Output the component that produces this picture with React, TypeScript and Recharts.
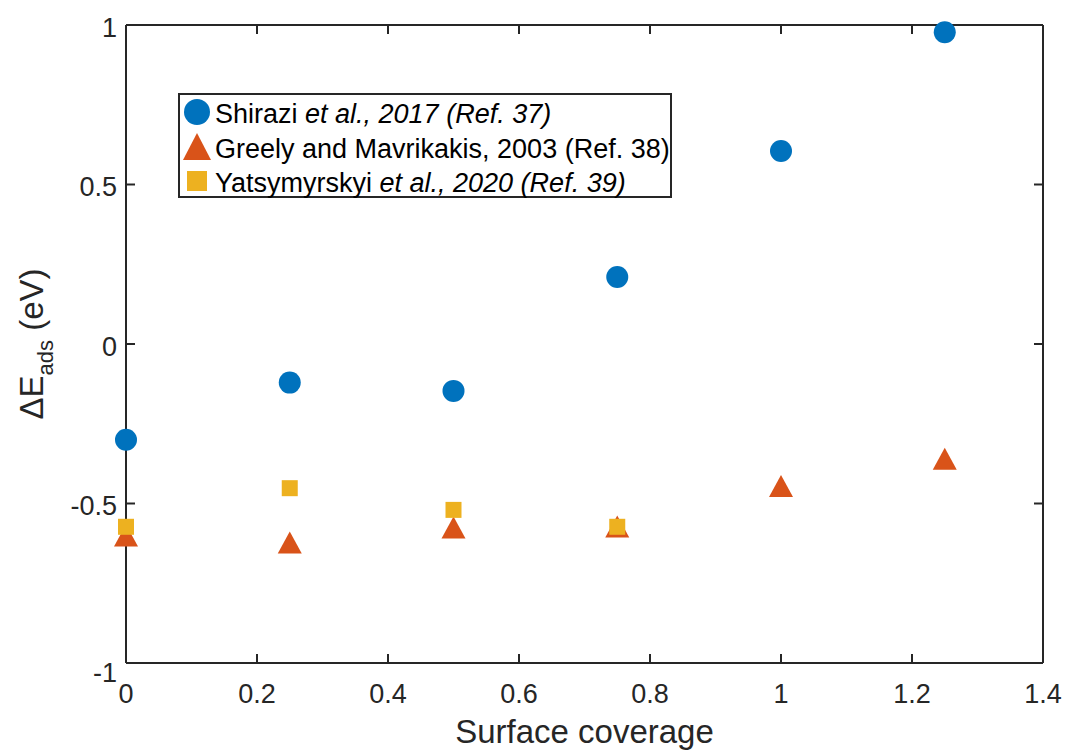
import React from 'react';
import { ScatterChart, Scatter, XAxis, YAxis, Legend } from 'recharts';

const FONT = '"Liberation Sans", Arial, Helvetica, sans-serif';
const AXIS = '#262626';
const BLUE = '#0072BD';
const ORANGE = '#D95319';
const YELLOW = '#EDB120';

// values
const shiraziX = [0, 0.25, 0.5, 0.75, 1.0, 1.25];
const shiraziY = [-0.3, -0.121, -0.147, 0.21, 0.605, 0.977];
const greelyX = [0, 0.25, 0.5, 0.75, 1.0, 1.25];
const greelyY = [-0.6, -0.622, -0.575, -0.572, -0.445, -0.36];
const yatsX = [0, 0.25, 0.5, 0.75];
const yatsY = [-0.573, -0.452, -0.52, -0.573];

const xTicks = [0, 0.2, 0.4, 0.6, 0.8, 1, 1.2, 1.4];
const yTicks = [-1, -0.5, 0, 0.5, 1];

const toPoints = (xs: number[], ys: number[]) => xs.map((x, i) => ({ x, y: ys[i] }));
const shirazi = toPoints(shiraziX, shiraziY);
const greely = toPoints(greelyX, greelyY);
const yats = toPoints(yatsX, yatsY);

const Circle = (p: any) => <circle cx={p.cx} cy={p.cy} r={11} fill={BLUE} />;
const Tri = (p: any) => {
  const w = 12;
  const h = 11;
  return <path d={`M${p.cx} ${p.cy - h}L${p.cx + w} ${p.cy + h}L${p.cx - w} ${p.cy + h}Z`} fill={ORANGE} />;
};
const Square = (p: any) => <rect x={p.cx - 8} y={p.cy - 8} width={16} height={16} fill={YELLOW} />;

const fmt = (v: number) => String(v);

// draws nothing: used for tick labels of the box axes and for the helper series
const Nothing = () => <g />;

const YTick = (props: any) => {
  const { x, y, payload } = props;
  const shift = payload.value === -1 ? 9 : 2;
  return (
    <text x={x} y={y + shift} dy="0.355em" textAnchor="end" fontSize={27} fill={AXIS} fontFamily={FONT}>
      {fmt(payload.value)}
    </text>
  );
};

const legendRows = [
  { mark: 'circle', parts: [['Shirazi ', false], ['et al., 2017 (Ref. 37)', true]] },
  { mark: 'tri', parts: [['Greely and Mavrikakis, 2003 (Ref. 38)', false]] },
  { mark: 'square', parts: [['Yatsymyrskyi ', false], ['et al., 2020 (Ref. 39)', true]] },
];

const renderLegend = () => (
  <svg width={494} height={105} style={{ display: 'block' }}>
    <rect x={1} y={1} width={492} height={103} fill="#fff" stroke={AXIS} strokeWidth={2} />
    {legendRows.map((row, i) => {
      const cy = 19 + i * 34.5;
      let mark;
      if (row.mark === 'circle') mark = <circle cx={19} cy={cy} r={13} fill={BLUE} />;
      else if (row.mark === 'tri')
        mark = <path d={`M19 ${cy - 13.5}L33 ${cy + 13.5}L5 ${cy + 13.5}Z`} fill={ORANGE} />;
      else mark = <rect x={9} y={cy - 10} width={20} height={20} fill={YELLOW} />;
      return (
        <g key={i}>
          {mark}
          <text x={37} y={30 + i * 34.5} fontSize={27} fill="#000" fontFamily={FONT}>
            {row.parts.map((pt, j) => (
              <tspan key={j} fontStyle={pt[1] ? 'italic' : 'normal'}>
                {pt[0] as string}
              </tspan>
            ))}
          </text>
        </g>
      );
    })}
  </svg>
);

const YLabel = (props: any) => {
  const vb = props.viewBox;
  const cy = vb.y + vb.height / 2;
  const x = 43;
  return (
    <text x={x} y={cy} transform={`rotate(-90, ${x}, ${cy})`} textAnchor="middle" fontSize={33} fill={AXIS} fontFamily={FONT}>
      <tspan>ΔE</tspan>
      <tspan fontSize={22} dy={10}>ads</tspan>
      <tspan dy={-10}> (eV)</tspan>
    </text>
  );
};

const XLabel = (props: any) => {
  const vb = props.viewBox;
  return (
    <text x={vb.x + vb.width / 2} y={vb.y + 80} textAnchor="middle" fontSize={33} fill={AXIS} fontFamily={FONT}>
      Surface coverage
    </text>
  );
};

const boxAxis = {
  type: 'number' as const,
  mirror: true,
  allowDataOverflow: true,
  tick: <Nothing />,
  tickSize: 9,
  tickLine: { stroke: AXIS, strokeWidth: 2 },
};

export default function App() {
  return (
    <div style={{ position: 'absolute', left: 0, top: 0, background: '#fff' }}>
      <ScatterChart width={1068} height={752} margin={{ top: 25, right: 25, left: 0, bottom: 0 }}>
        <XAxis
          dataKey="x"
          type="number"
          domain={[0, 1.4]}
          ticks={xTicks}
          height={89}
          tickLine={false}
          tickSize={6}
          tickMargin={15}
          tickFormatter={fmt}
          axisLine={{ stroke: AXIS, strokeWidth: 2 }}
          tick={{ fontSize: 27, fill: AXIS, fontFamily: FONT }}
          label={<XLabel />}
        />
        <XAxis {...boxAxis} xAxisId="bottomIn" dataKey="x" orientation="bottom" domain={[0, 1.4]} ticks={xTicks} axisLine={false} />
        <XAxis {...boxAxis} xAxisId="top" dataKey="x" orientation="top" domain={[0, 1.4]} ticks={xTicks} axisLine={{ stroke: AXIS, strokeWidth: 2 }} />
        <YAxis
          dataKey="y"
          type="number"
          domain={[-1, 1]}
          ticks={yTicks}
          width={126}
          tickLine={false}
          tickSize={6}
          tickMargin={3}
          axisLine={{ stroke: AXIS, strokeWidth: 2 }}
          tick={<YTick />}
          label={<YLabel />}
        />
        <YAxis {...boxAxis} yAxisId="leftIn" dataKey="y" orientation="left" domain={[-1, 1]} ticks={yTicks} axisLine={false} />
        <YAxis {...boxAxis} yAxisId="right" dataKey="y" orientation="right" domain={[-1, 1]} ticks={yTicks} axisLine={{ stroke: AXIS, strokeWidth: 2 }} />
        {/* invisible helper series so the box axes get a scale */}
        <Scatter data={shirazi} xAxisId="bottomIn" yAxisId="leftIn" shape={Nothing} legendType="none" isAnimationActive={false} />
        <Scatter data={shirazi} xAxisId="top" yAxisId="right" shape={Nothing} legendType="none" isAnimationActive={false} />
        <Scatter name="Shirazi" data={shirazi} shape={Circle} isAnimationActive={false} />
        <Scatter name="Greely" data={greely} shape={Tri} isAnimationActive={false} />
        <Scatter name="Yatsymyrskyi" data={yats} shape={Square} isAnimationActive={false} />
        <Legend
          layout="vertical"
          align="center"
          verticalAlign="middle"
          content={renderLegend}
          wrapperStyle={{ position: 'absolute', left: 178, top: 93, width: 494, height: 105 }}
        />
      </ScatterChart>
    </div>
  );
}
